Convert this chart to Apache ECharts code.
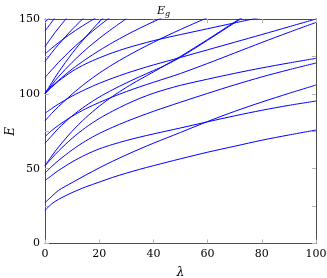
<!DOCTYPE html>
<html>
<head>
<meta charset="utf-8">
<script src="https://cdn.jsdelivr.net/npm/echarts@6/dist/echarts.min.js"></script>
<style>
html,body{margin:0;padding:0;background:#fff;}
#chart{width:327px;height:278px;}
</style>
</head>
<body>
<div id="chart"></div>
<script>
// lambda sample positions shared by all curves
var lambdas = [0, 2.5, 5, 10, 15, 20, 25, 30, 35, 40, 45, 50, 60, 70, 80, 90, 100];

// energy curves E_g(lambda) (null = beyond the top of the plot)
var c1  = [22.2, 26.5, 29.5, 34, 37.8, 41, 44.2, 47, 49.6, 52, 54.3, 56.6, 61, 65, 69, 72.5, 75.8];
var c2  = [27.3, 31.5, 35.5, 40.7, 45.7, 50.5, 55, 59.2, 63.2, 67, 70.6, 74.2, 81.5, 88.3, 94.5, 100.3, 105.9];
var c3  = [42, 45.5, 48.8, 54.5, 59.3, 63.2, 66.2, 68.8, 71.1, 73.2, 75.2, 77.2, 81.3, 85.3, 89, 92.3, 95.2];
var c4  = [47, 51.5, 55.5, 62.5, 68.5, 73.5, 77.7, 81.5, 85, 88.3, 91.4, 94.4, 100.3, 106, 111.3, 116.1, 120.6];
var c5  = [52, 57, 61.8, 70.3, 77.5, 83.5, 88.5, 93, 97, 100.4, 103.2, 105.7, 109.8, 113.7, 117.3, 120.6, 123.7];
var c6  = [71.4, 75.5, 79, 85, 90, 94.2, 98, 101.5, 104.7, 107.7, 110.6, 113.6, 120.3, 127.3, 134.3, 141.1, 147.7];
var c7  = [87, 90.2, 93.2, 98.5, 103, 107, 110.5, 113.7, 116.6, 119.3, 121.8, 124.3, 129.4, 134.5, 139.6, 144.8, 150];
var c8  = [67, 72, 77, 85.2, 92, 97.8, 102.8, 107.3, 111.5, 115.5, 119.6, 124.5, 135.8, 147.5, 159, null, null];
var c9  = [52, 58.5, 64.5, 75, 84, 91.7, 98.4, 104.3, 109.6, 114.6, 119.8, 125, 136.3, 148, 159.5, null, null];
var c10 = [100, 104.5, 108.5, 115, 120, 124, 127.5, 130.5, 133.1, 135.5, 137.6, 139.6, 143.5, 147.4, 151.3, null, null];
var c11 = [82, 87, 91.5, 99.8, 107.2, 113.8, 119.6, 124.9, 129.8, 134.4, 138.8, 143, 151, null, null, null, null];
var c12 = [101, 105, 109, 116.5, 123, 128.9, 134.3, 139.3, 143.9, 148.2, 152.3, null, null, null, null, null, null];
var c13 = [100, 106, 111.5, 121, 129.5, 137, 143.8, 150.2, null, null, null, null, null, null, null, null, null];
var c14 = [100, 107.5, 114.5, 127, 138, 148, 157, null, null, null, null, null, null, null, null, null, null];
var c15 = [111, 116, 121, 130, 138, 145.5, 152.5, null, null, null, null, null, null, null, null, null, null];
var c16 = [121.5, 127.5, 133, 143, 152, null, null, null, null, null, null, null, null, null, null, null, null];
var c17 = [126.6, 130.5, 134.2, 140.8, 146.7, 152.2, null, null, null, null, null, null, null, null, null, null, null];
var c18 = [131.5, 138, 144, 155, null, null, null, null, null, null, null, null, null, null, null, null, null];
var c19 = [142, 148, 154, null, null, null, null, null, null, null, null, null, null, null, null, null, null];
var c20 = [148, 152, null, null, null, null, null, null, null, null, null, null, null, null, null, null, null];

var curves = [c1,c2,c3,c4,c5,c6,c7,c8,c9,c10,c11,c12,c13,c14,c15,c16,c17,c18,c19,c20];

var xTicks = [0, 20, 40, 60, 80, 100];
var yTicks = [0, 50, 100, 150];

var serif = '"DejaVu Serif", "Liberation Serif", serif';
var frameColor = '#4d4d4d';
var tickColor = '#b3b3b3';

function pairs(arr) {
  var out = [];
  for (var i = 0; i < lambdas.length; i++) {
    out.push([lambdas[i], arr[i] === null ? null : arr[i]]);
  }
  return out;
}

var series = curves.map(function (c) {
  return {
    type: 'line',
    data: pairs(c),
    showSymbol: false,
    smooth: 0.3,
    clip: true,
    connectNulls: false,
    lineStyle: { color: '#0000ff', width: 1 },
    silent: true,
    animation: false
  };
});

var chart = echarts.init(document.getElementById('chart'), null, { renderer: 'canvas' });
chart.setOption({
  animation: false,
  backgroundColor: '#ffffff',
  title: {
    text: '{e|E}{g|g}',
    left: 'center',
    top: 0,
    textStyle: {
      fontWeight: 'normal',
      rich: {
        e: { fontFamily: serif, fontStyle: 'italic', fontWeight: 'normal', fontSize: 11, color: '#000' },
        g: { fontFamily: serif, fontStyle: 'italic', fontWeight: 'normal', fontSize: 8, color: '#000', padding: [5, 0, 0, 0] }
      }
    }
  },
  grid: { left: 45, right: 11, top: 19, bottom: 34.5, containLabel: false, outerBoundsMode: 'none' },
  xAxis: [{
    type: 'value', min: 0, max: 100, interval: 20, position: 'bottom',
    name: 'λ', nameLocation: 'middle', nameGap: 23,
    nameTextStyle: { fontFamily: serif, fontStyle: 'italic', fontSize: 12, color: '#000' },
    axisLine: { show: true, onZero: false, lineStyle: { color: frameColor, width: 1 } },
    axisTick: { show: true, inside: true, length: 4, lineStyle: { color: tickColor } },
    axisLabel: { fontFamily: serif, fontSize: 11, color: '#000', margin: 5,
      formatter: function (v) { return xTicks.indexOf(v) >= 0 ? String(v) : ''; } },
    splitLine: { show: false }
  }, {
    type: 'value', min: 0, max: 100, interval: 20, position: 'top',
    axisLine: { show: true, onZero: false, lineStyle: { color: frameColor, width: 1 } },
    axisTick: { show: true, inside: true, length: 4, lineStyle: { color: tickColor } },
    axisLabel: { show: false }, splitLine: { show: false }
  }],
  yAxis: [{
    type: 'value', min: 0, max: 150, interval: 25, position: 'left',
    name: 'E', nameLocation: 'middle', nameGap: 28, nameRotate: 90, nameMoveOverlap: false,
    nameTextStyle: { fontFamily: serif, fontStyle: 'italic', fontSize: 12, color: '#000' },
    axisLine: { show: true, onZero: false, lineStyle: { color: frameColor, width: 1 } },
    axisTick: { show: true, inside: true, length: 4, lineStyle: { color: tickColor } },
    axisLabel: { fontFamily: serif, fontSize: 11, color: '#000', margin: 5,
      formatter: function (v) { return yTicks.indexOf(v) >= 0 ? String(v) : ''; } },
    splitLine: { show: false }
  }, {
    type: 'value', min: 0, max: 150, interval: 25, position: 'right',
    axisLine: { show: true, onZero: false, lineStyle: { color: frameColor, width: 1 } },
    axisTick: { show: true, inside: true, length: 4, lineStyle: { color: tickColor } },
    axisLabel: { show: false }, splitLine: { show: false }
  }],
  series: series
});
</script>
</body>
</html>
